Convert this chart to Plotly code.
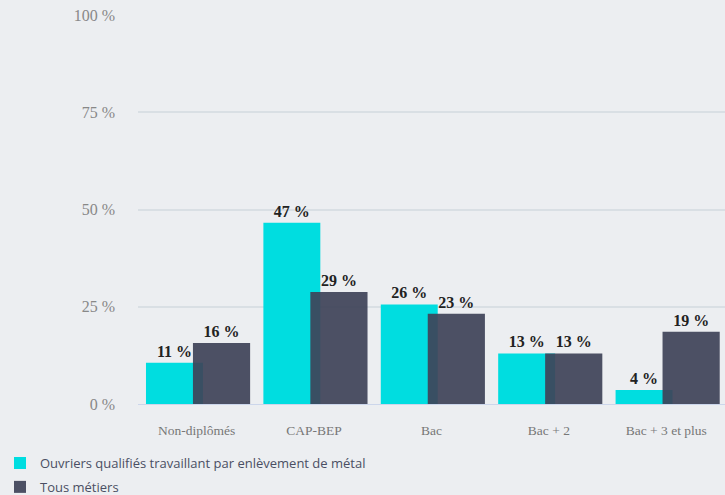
import plotly.graph_objects as go

categories = ["Non-diplômés", "CAP-BEP", "Bac", "Bac + 2", "Bac + 3 et plus"]
series_names = ["Ouvriers qualifiés travaillant par enlèvement de métal", "Tous métiers"]
ouvriers = [10.6, 46.6, 25.6, 13.0, 3.6]
tous = [15.7, 28.8, 23.2, 13.0, 18.6]
y_ticks = [0, 25, 50, 75, 100]
y_tick_labels = [f"{v} %" for v in y_ticks]

BG = "#eceef1"
CYAN = "#00dde0"
DARK = "rgba(62,66,88,0.92)"
LABEL_FONT = dict(family="Liberation Serif", size=16, color="#222222", weight="bold")

fig = go.Figure()
fig.add_trace(go.Bar(
    x=categories, y=ouvriers, name=series_names[0], legendgroup="a",
    marker=dict(color=CYAN, line=dict(width=0)),
    offset=-0.432, width=0.485,
    text=[f"{v:.0f} %" for v in ouvriers], textposition="outside",
    textfont=LABEL_FONT, constraintext="none", cliponaxis=False,
))
fig.add_trace(go.Bar(
    x=categories, y=tous, name=series_names[1], legendgroup="b",
    marker=dict(color=DARK, line=dict(width=0)),
    offset=-0.032, width=0.487,
    text=[f"{v:.0f} %" for v in tous], textposition="outside",
    textfont=LABEL_FONT, constraintext="none", cliponaxis=False,
))

fig.update_layout(
    width=725, height=495,
    paper_bgcolor=BG, plot_bgcolor=BG,
    barmode="overlay",
    margin=dict(l=138, r=0, t=15, b=91, autoexpand=False),
    showlegend=True,
    legend=dict(
        orientation="v", xref="container", yref="paper",
        x=0.0, y=-0.252, xanchor="left", yanchor="bottom",
        font=dict(family="Open Sans", size=13, color="#4a4e63"),
        bgcolor="rgba(0,0,0,0)", tracegroupgap=4, itemwidth=30,
    ),
    xaxis=dict(
        showgrid=False, showline=True, linecolor="#ccd6eb", linewidth=1,
        tickfont=dict(family="Liberation Serif", size=13.5, color="#777777"),
        ticks="", ticklabelstandoff=14, tickangle=0,
    ),
    yaxis=dict(
        range=[0, 100], tickvals=y_ticks, ticktext=y_tick_labels,
        showgrid=True, gridcolor="#d9dfe4", gridwidth=1.5,
        zeroline=False, showline=False,
        tickfont=dict(family="Liberation Serif", size=16, color="#888888"),
        ticklabelstandoff=22,
    ),
)

fig.write_html(
    "out.html",
    config={"displayModeBar": False},
    post_script="document.body.style.margin='0';document.body.style.background='#eceef1';",
)
